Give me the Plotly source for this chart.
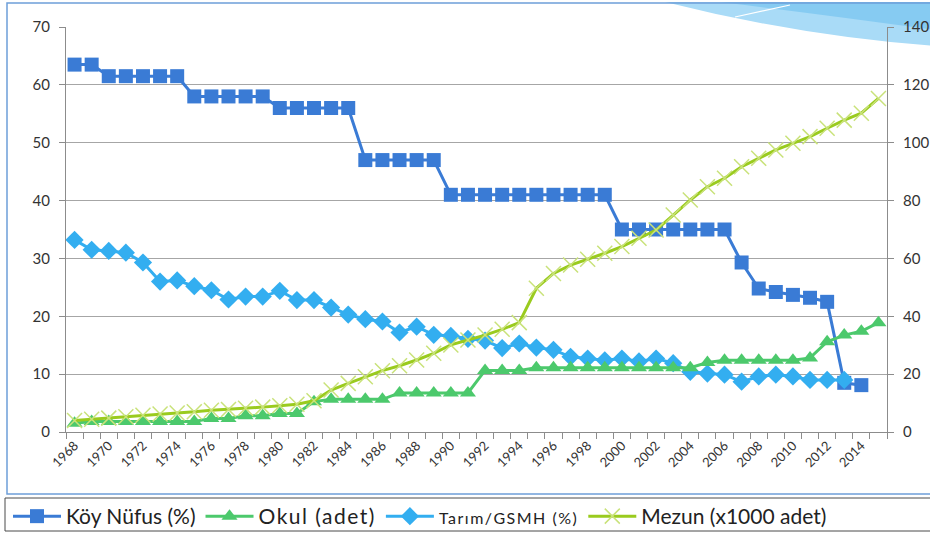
import plotly.graph_objects as go

# ---------------- data ----------------
years = list(range(1968, 2016))
tick_years = list(range(1968, 2015, 2))

koy_years = list(range(1968, 2015))
koy_nufus = [63.5, 63.5,
             61.5, 61.5, 61.5, 61.5, 61.5,
             58, 58, 58, 58, 58,
             56, 56, 56, 56, 56,
             47, 47, 47, 47, 47,
             41, 41, 41, 41, 41, 41, 41, 41, 41, 41,
             35, 35, 35, 35, 35, 35, 35,
             29.3, 24.8, 24.2, 23.7, 23.2, 22.5, 8.5, 8.1]

okul_years = list(range(1968, 2016))
okul = [3.0,
        3.6, 3.6, 3.6, 3.6, 3.6, 3.6, 3.6,
        4.7, 4.7, 5.6, 5.6, 6.4, 6.4,
        10.5,
        11.3, 11.3, 11.3, 11.3,
        13.5, 13.5, 13.5, 13.5, 13.5,
        21.3, 21.3, 21.3,
        22.2, 22.2, 22.2, 22.2, 22.2, 22.2, 22.2, 22.2, 22.2, 22.2,
        24.0,
        24.8, 24.8, 24.8, 24.8, 24.8,
        25.6, 31.2, 33.5, 34.8, 37.8]

tarim_years = list(range(1968, 2014))
tarim = [33.2, 31.5, 31.3, 31.0, 29.3, 26.0, 26.2, 25.2, 24.5, 22.9, 23.4, 23.4, 24.4, 22.8, 22.8,
         21.5, 20.3, 19.5, 19.1, 17.2, 18.2, 16.8, 16.6, 16.1, 15.8, 14.5, 15.3, 14.6, 14.2, 13.0, 12.7, 12.4,
         12.7, 12.2, 12.7, 11.9, 10.4, 10.1, 9.9, 8.7, 9.6, 9.9, 9.6, 9.0, 9.0, 9.0]

mezun_years = list(range(1968, 2016))
mezun = [4.0, 4.4, 4.8, 5.3, 5.8, 6.2, 6.6, 7.0, 7.5, 7.8, 8.2, 8.6, 9.1, 9.6,
         10.8, 14.5, 16.8, 19.1, 21.2, 22.9, 24.9, 27.2, 30.1, 31.8, 33.5, 35.5, 37.8,
         49.7, 54.8, 57.7, 59.7, 61.8,
         64.1, 67.0, 69.8, 75.0, 80.2, 84.8, 87.7, 91.7, 94.6, 97.5, 99.8, 102.1, 105.0,
         107.8, 110.2, 115.3]

left_ticks = [0, 10, 20, 30, 40, 50, 60, 70]
right_ticks = [0, 20, 40, 60, 80, 100, 120, 140]

# ---------------- styling ----------------
W, H = 930, 534
L, R, T, B = 66, 887, 27, 432
FONT = "Lato"


def px(x):
    return (x - L) / (R - L)


def py(y):
    return (B - y) / (B - T)


fig = go.Figure()

fig.add_trace(go.Scatter(
    x=koy_years, y=koy_nufus, name="Köy Nüfus (%)", mode="lines+markers",
    line=dict(color="#3A7BD5", width=3),
    marker=dict(symbol="square", size=14, color="#3A7BD5"),
    yaxis="y"))

fig.add_trace(go.Scatter(
    x=okul_years, y=okul,
    name="<span style='letter-spacing:1.5px'>Okul (adet)</span>",
    mode="lines+markers",
    line=dict(color="#4CC96C", width=3),
    marker=dict(symbol="triangle-up", size=14, color="#4CC96C"),
    yaxis="y2"))

fig.add_trace(go.Scatter(
    x=tarim_years, y=tarim,
    name="<span style='font-size:16px;letter-spacing:1.5px'>Tarım/GSMH (%)</span>",
    mode="lines+markers",
    line=dict(color="#33AEF0", width=3),
    marker=dict(symbol="diamond", size=14, color="#33AEF0"),
    yaxis="y"))

fig.add_trace(go.Scatter(
    x=mezun_years, y=mezun, name="Mezun (x1000 adet)", mode="lines+markers",
    line=dict(color="#9ACB1E", width=3),
    marker=dict(symbol="x-thin", size=15, color="#C9E27A",
                line=dict(color="#C9E27A", width=1.5)),
    yaxis="y2"))

shapes = [
    # top-right decorative swoosh
    dict(type="path", xref="paper", yref="paper", layer="below",
         path=(f"M {px(665)},{py(2)} L {px(935)},{py(2)} L {px(935)},{py(46)} "
               f"Q {px(800)},{py(36)} {px(665)},{py(2)} Z"),
         fillcolor="#A9DBF7", line=dict(width=0)),
    dict(type="path", xref="paper", yref="paper", layer="below",
         path=(f"M {px(720)},{py(2)} L {px(935)},{py(2)} L {px(935)},{py(30)} "
               f"Q {px(820)},{py(14)} {px(720)},{py(2)} Z"),
         fillcolor="#86CBF2", line=dict(width=0)),
    dict(type="line", xref="paper", yref="paper", layer="below",
         x0=px(735), y0=py(17), x1=px(790), y1=py(5),
         line=dict(color="white", width=1.2)),
    # outer chart frame
    dict(type="rect", xref="paper", yref="paper", layer="below",
         x0=px(7), y0=py(494), x1=px(940), y1=py(3),
         line=dict(color="#6E9FD9", width=1.5), fillcolor="rgba(0,0,0,0)"),
    # legend frame
    dict(type="rect", xref="paper", yref="paper", layer="below",
         x0=px(5), y0=py(531), x1=px(940), y1=py(498),
         line=dict(color="#4A4A4A", width=1), fillcolor="rgba(0,0,0,0)"),
]

fig.update_layout(
    width=W, height=H,
    margin=dict(l=L, r=W - R, t=T, b=H - B, autoexpand=False),
    paper_bgcolor="white", plot_bgcolor="white",
    font=dict(family=FONT, color="#333333", size=15),
    showlegend=True,
    legend=dict(orientation="h", x=px(8), y=py(496), xanchor="left", yanchor="top",
                font=dict(family=FONT, size=21, color="#222222"),
                itemwidth=48, bgcolor="rgba(0,0,0,0)", borderwidth=0,
                tracegroupgap=0, itemclick=False),
    xaxis=dict(range=[1967.5, 2015.5], tickmode="array", tickvals=tick_years,
               ticktext=[str(y) for y in tick_years], tickangle=-45,
               ticks="", showgrid=False, zeroline=False, automargin=False,
               showline=True, linecolor="#8C8C8C", linewidth=1,
               tickfont=dict(size=13, color="#333333"),
               minor=dict(tick0=1967.5, dtick=1, ticks="outside", ticklen=6,
                          tickcolor="#8C8C8C", showgrid=False)),
    yaxis=dict(range=[0, 70], tickvals=left_ticks, showgrid=True, gridcolor="#A6A6A6",
               gridwidth=1, zeroline=False, showline=True, linecolor="#8C8C8C",
               ticks="outside", ticklen=6, tickcolor="#8C8C8C", automargin=False,
               tickfont=dict(size=15, color="#333333"), ticklabelstandoff=6),
    yaxis2=dict(range=[0, 140], tickvals=right_ticks, overlaying="y", side="right",
                showgrid=False, zeroline=False, showline=True, linecolor="#8C8C8C",
                ticks="outside", ticklen=6, tickcolor="#8C8C8C", automargin=False,
                tickfont=dict(size=15, color="#333333"), ticklabelstandoff=6),
    shapes=shapes,
)

fig.write_html("out.html",
               config={"displayModeBar": False},
               post_script="document.body.style.margin='0px';"
                           "document.body.style.overflow='hidden';")
